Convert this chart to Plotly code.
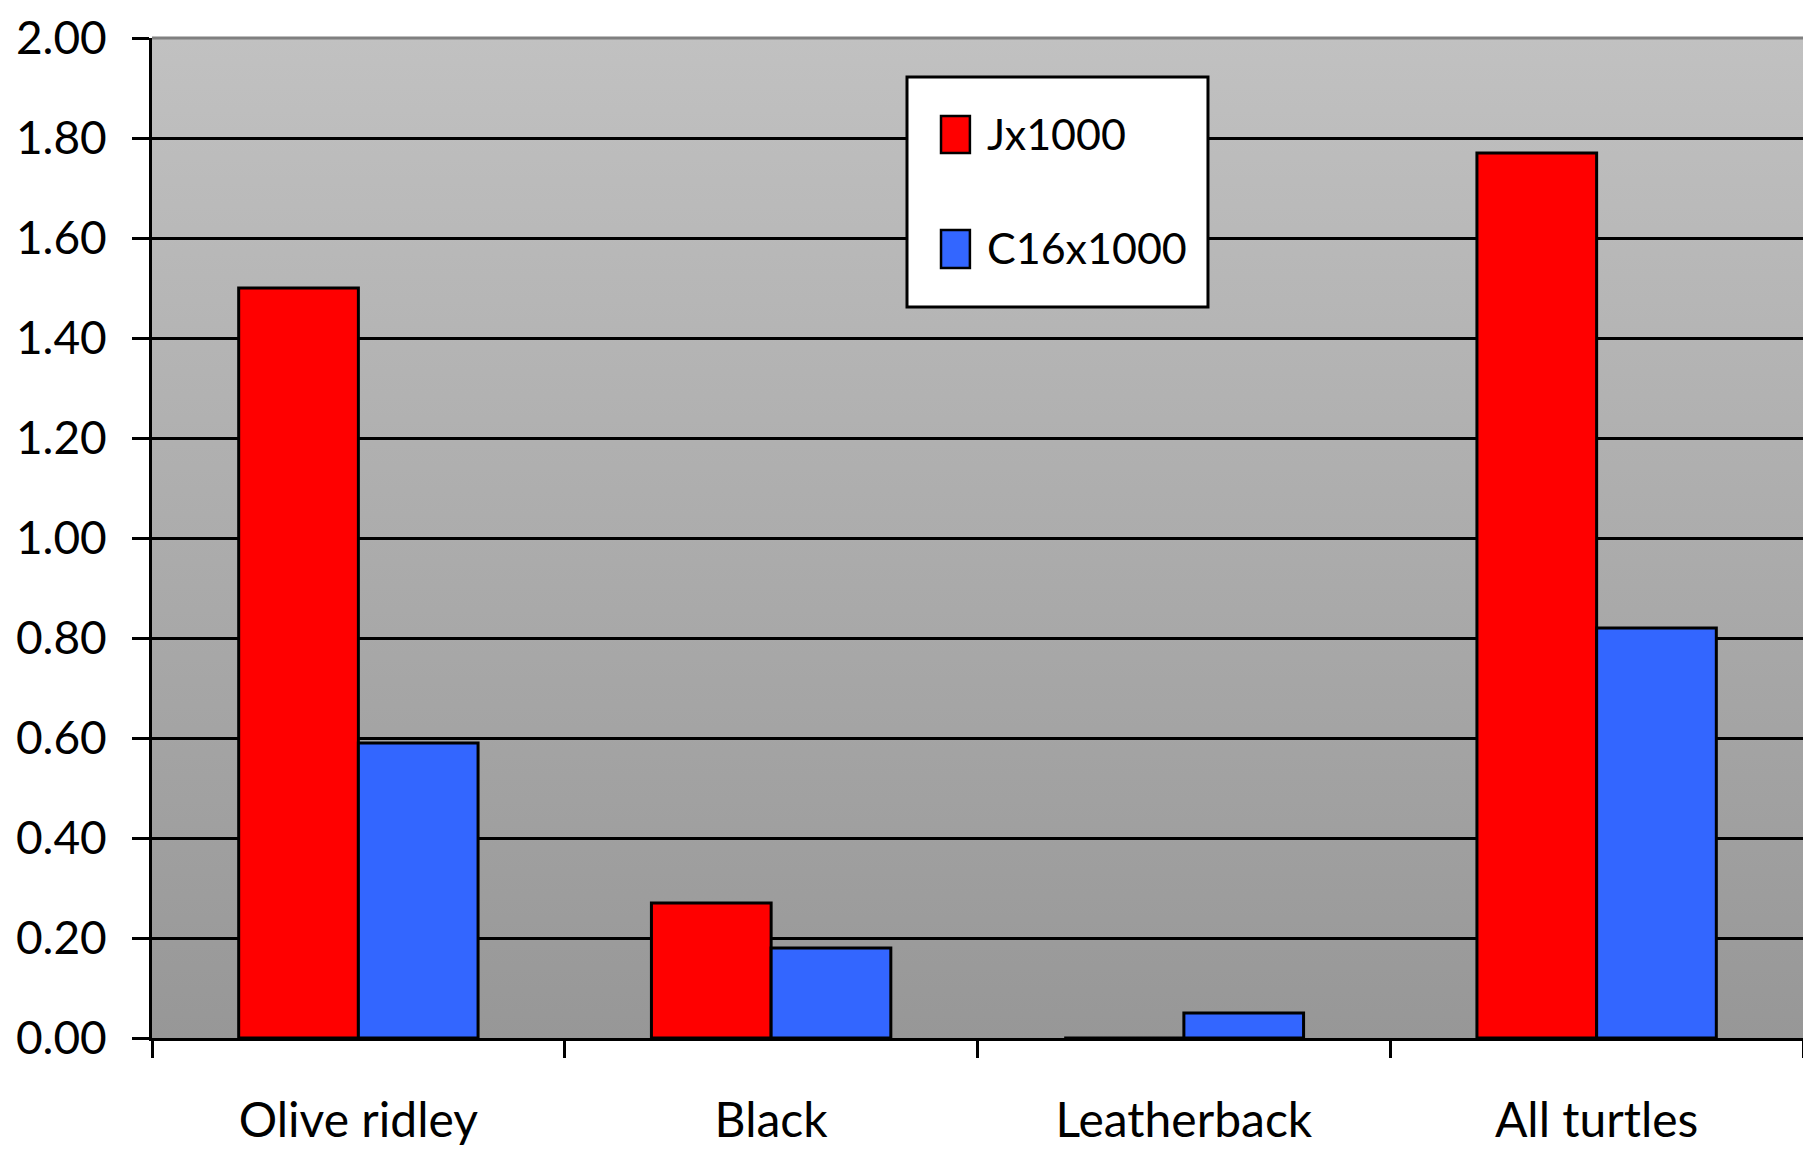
import base64
import plotly.graph_objects as go

categories = ["Olive ridley", "Black", "Leatherback", "All turtles"]
series_names = ["Jx1000", "C16x1000"]
j_values = [1.50, 0.27, 0.0, 1.77]
c16_values = [0.59, 0.18, 0.05, 0.82]
series_colors = ["#ff0000", "#3366ff"]
y_ticks = [0.0, 0.2, 0.4, 0.6, 0.8, 1.0, 1.2, 1.4, 1.6, 1.8, 2.0]

FONT = "Lato"

fig = go.Figure()
for name, vals, col in zip(series_names, [j_values, c16_values], series_colors):
    fig.add_trace(go.Bar(
        x=categories, y=vals, name=name,
        marker=dict(color=col, line=dict(color="black", width=3)),
        showlegend=False,
    ))

svg = ('<svg xmlns="http://www.w3.org/2000/svg" width="100" height="100" preserveAspectRatio="none">'
       '<defs><linearGradient id="g" x1="0" y1="0" x2="0" y2="1">'
       '<stop offset="0" stop-color="#c1c1c1"/><stop offset="1" stop-color="#979797"/>'
       '</linearGradient></defs><rect width="100" height="100" fill="url(#g)"/></svg>')
src = "data:image/svg+xml;base64," + base64.b64encode(svg.encode()).decode()

shapes = [
    dict(type="line", xref="paper", yref="paper", x0=0, x1=1, y0=1, y1=1,
         line=dict(color="#808080", width=3), layer="above"),
    # legend box
    dict(type="rect", xref="paper", yref="paper", x0=0.4573, x1=0.6396, y0=0.731, y1=0.961,
         fillcolor="white", line=dict(color="black", width=3), layer="above"),
]
annotations = []
legend_rows = [(0.922, 0.885, 0.904), (0.808, 0.770, 0.790)]
for (yt, yb, yc), name, col in zip(legend_rows, series_names, series_colors):
    shapes.append(dict(type="rect", xref="paper", yref="paper", x0=0.4779, x1=0.4954, y0=yb, y1=yt,
                       fillcolor=col, line=dict(color="black", width=2.5), layer="above"))
    annotations.append(dict(xref="paper", yref="paper", x=0.5045, y=yc, text=name, showarrow=False,
                            xanchor="left", yanchor="middle",
                            font=dict(family=FONT, size=43, color="black")))

fig.update_layout(
    width=1803, height=1155,
    margin=dict(l=152, r=0, t=38, b=117),
    paper_bgcolor="white",
    plot_bgcolor="rgba(0,0,0,0)",
    barmode="group",
    bargap=0.42,
    bargroupgap=0.0,
    images=[dict(source=src, xref="paper", yref="paper", x=0, y=1, sizex=1, sizey=1,
                 sizing="stretch", xanchor="left", yanchor="top", layer="below")],
    shapes=shapes,
    annotations=annotations,
    font=dict(family=FONT, color="black"),
)
fig.update_yaxes(
    range=[0, 2.0], tickvals=y_ticks, tickformat=".2f",
    showgrid=True, gridcolor="black", gridwidth=3,
    showline=True, linecolor="black", linewidth=3,
    ticks="outside", ticklen=17, tickwidth=3, tickcolor="black",
    ticklabelstandoff=16,
    zeroline=False,
    tickfont=dict(family=FONT, size=46, color="black"),
)
fig.update_xaxes(
    showgrid=False,
    showline=True, linecolor="black", linewidth=3,
    ticks="outside", tickson="boundaries", ticklen=17, tickwidth=3, tickcolor="black",
    ticklabelstandoff=38,
    tickfont=dict(family=FONT, size=48, color="black"),
)

fig.write_html(
    "out.html",
    config={"displayModeBar": False},
    post_script="document.body.style.margin='0';document.body.style.padding='0';",
)
